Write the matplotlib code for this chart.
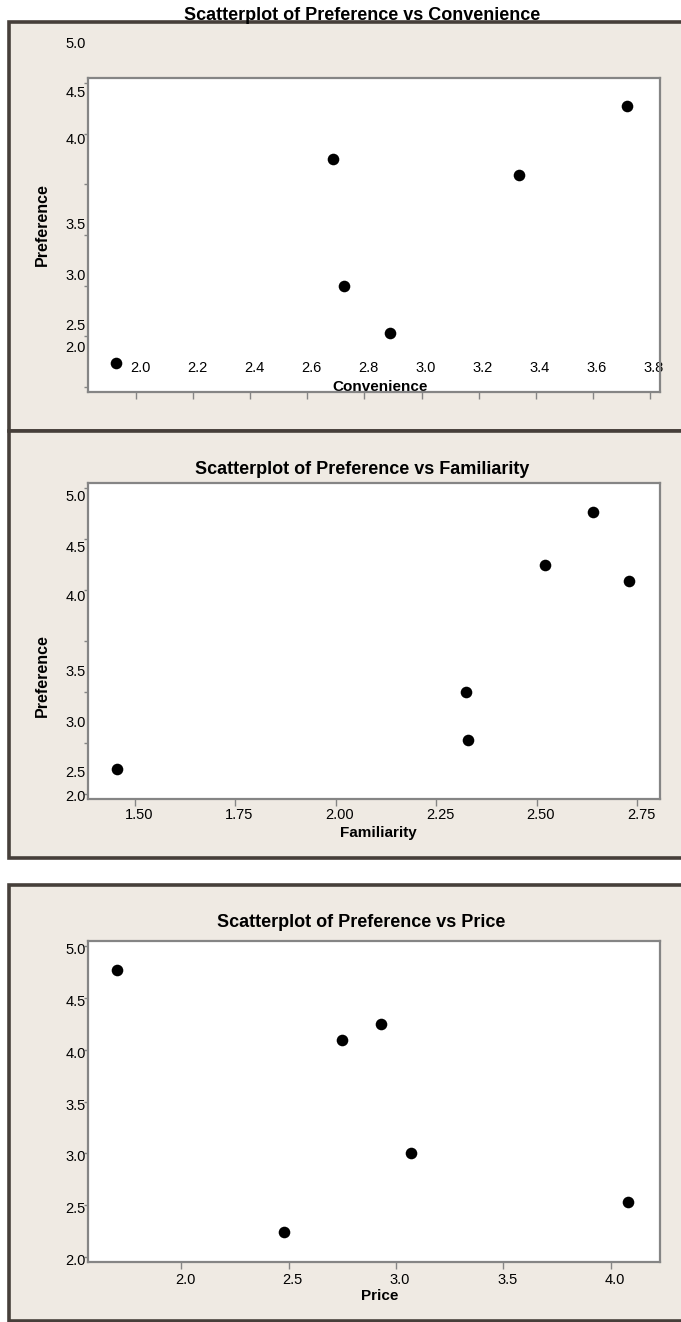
import matplotlib
matplotlib.use("Agg")
import matplotlib.pyplot as plt
from matplotlib.patches import Rectangle
from matplotlib.transforms import (blended_transform_factory, offset_copy,
                                   ScaledTranslation)


# six respondents, same order in every panel
preference = [4.77, 4.25, 4.09, 3.00, 2.53, 2.24]
convenience = [3.72, 2.69, 3.34, 2.73, 2.89, 1.93]
familiarity = [2.64, 2.52, 2.73, 2.325, 2.33, 1.455]
price = [1.70, 2.93, 2.75, 3.07, 4.08, 2.48]

pref_ticks = [2.0, 2.5, 3.0, 3.5, 4.0, 4.5, 5.0]
conv_ticks = [2.0, 2.2, 2.4, 2.6, 2.8, 3.0, 3.2, 3.4, 3.6, 3.8]
fam_ticks = [1.50, 1.75, 2.00, 2.25, 2.50, 2.75]
price_ticks = [2.0, 2.5, 3.0, 3.5, 4.0]

W, H = 681, 1322
BG = "#efeae3"
EDGE = "#463f3a"
SPINE = "#858585"

plt.rcParams["font.family"] = ["Liberation Sans", "DejaVu Sans"]

fig = plt.figure(figsize=(W / 100, H / 100), dpi=100)


def fbox(x0, y0, x1, y1):
    # pixel box (top-left origin) -> figure fraction [l, b, w, h]
    return [x0 / W, 1 - y1 / H, (x1 - x0) / W, (y1 - y0) / H]


def frame(x0, y0, x1, y1):
    l, b, w, h = fbox(x0, y0, x1, y1)
    fig.add_artist(Rectangle((l, b), w, h, transform=fig.transFigure,
                             facecolor=BG, edgecolor=EDGE, linewidth=2.6,
                             zorder=0))


def make_axes(box, xvals, xlim, xticks, xfmt, xpad):
    ax = fig.add_axes(fbox(*box))
    ax.set_facecolor("white")
    ax.scatter(xvals, preference, s=70, color="black", zorder=3,
               clip_on=False, linewidths=0)
    ax.set_xlim(xlim)
    ax.set_ylim(1.95, 5.05)
    ax.set_xticks(xticks)
    ax.set_xticklabels([xfmt.format(v) for v in xticks])
    ax.set_yticks(pref_ticks)
    for s in ax.spines.values():
        s.set_color(SPINE)
        s.set_linewidth(1.6)
    ax.tick_params(axis="x", direction="out", length=5, width=1,
                   color=SPINE, labelsize=10.5, pad=xpad)
    ax.tick_params(axis="y", direction="out", length=3, width=1,
                   color=SPINE, labelleft=False)
    # labels sit a few pixels right of their ticks in the export
    shift = ScaledTranslation(4 / 100, 0, fig.dpi_scale_trans)
    for lab in ax.get_xticklabels():
        lab.set_transform(lab.get_transform() + shift)
    return ax


def ylabels(ax, shifts):
    # Minitab export draws the y tick text a little off its tick
    base = blended_transform_factory(ax.transAxes, ax.transData)
    for val, dy in zip(pref_ticks, shifts):
        tr = offset_copy(base, fig=fig, x=-2, y=-dy, units="dots")
        ax.text(0, val, "{:.1f}".format(val), transform=tr, ha="right",
                va="center", fontsize=10.5, clip_on=False)


# panel backgrounds
frame(9, 22, 700, 431)
frame(9, 431, 700, 858)
frame(9, 885, 700, 1321)

# --- Preference vs Convenience
ax1 = make_axes((88, 78, 660, 392), convenience, (1.832, 3.835),
                conv_ticks, "{:.1f}", -27)
ylabels(ax1, [-39, -10, -10, -10, -44, -41, -39])
ax1.set_xlabel("Convenience", fontsize=11, fontweight="bold", va="baseline")
ax1.xaxis.set_label_coords(0.51, 0.003)
ax1.set_ylabel("Preference", fontsize=11.5, fontweight="bold", va="center")
ax1.yaxis.set_label_coords(-0.079, 0.532)
fig.text(362 / W, 1 - 19.5 / H, "Scatterplot of Preference vs Convenience",
         ha="center", va="baseline", fontsize=13, fontweight="bold")

# --- Preference vs Familiarity
ax2 = make_axes((88, 483, 660, 799), familiarity, (1.383, 2.807),
                fam_ticks, "{:.2f}", 1.5)
ylabels(ax2, [3, 30, 31, 31, 7, 9, 9])
ax2.set_xlabel("Familiarity", fontsize=11, fontweight="bold", va="baseline")
ax2.xaxis.set_label_coords(0.507, -0.120)
ax2.set_ylabel("Preference", fontsize=11.5, fontweight="bold", va="center")
ax2.yaxis.set_label_coords(-0.079, 0.392)
fig.text(362 / W, 1 - 474 / H, "Scatterplot of Preference vs Familiarity",
         ha="center", va="baseline", fontsize=13, fontweight="bold")

# --- Preference vs Price
ax3 = make_axes((88, 941, 660, 1262), price, (1.565, 4.23),
                price_ticks, "{:.1f}", 3)
ylabels(ax3, [4, 4, 4, 4, 4, 4, 4])
ax3.set_xlabel("Price", fontsize=11, fontweight="bold", va="baseline")
ax3.xaxis.set_label_coords(0.51, -0.118)
fig.text(361 / W, 1 - 927 / H, "Scatterplot of Preference vs Price",
         ha="center", va="baseline", fontsize=13, fontweight="bold")

fig.savefig("out.png", dpi=100, facecolor="white")
